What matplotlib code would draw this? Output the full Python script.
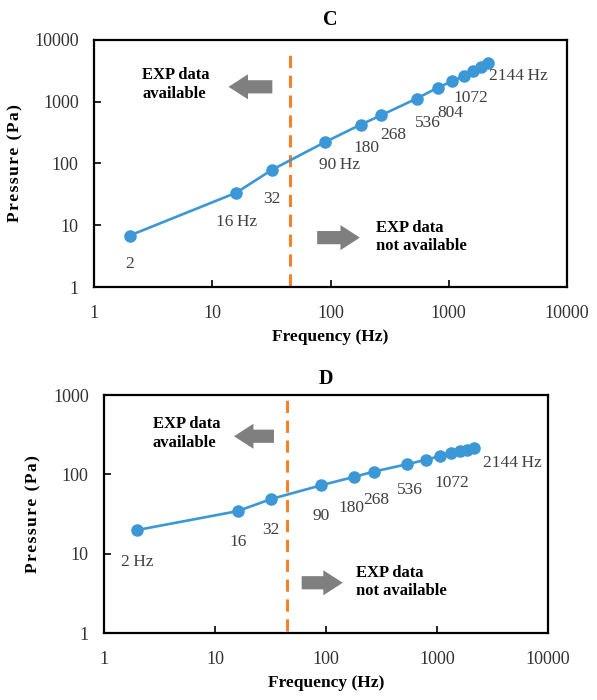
import numpy as np
from matplotlib import pyplot as plt

plt.rcParams['font.family'] = ['Liberation Serif', 'DejaVu Serif']

# frequencies shared by both panels (Hz)
freq = [2, 16, 32, 90, 180, 268, 536, 804, 1072, 1340, 1608, 1876, 2144]

# pressure for case C and case D (Pa)
press_c = [6.8, 33.7, 79, 222, 425, 603, 1125, 1680, 2150, 2600, 3130, 3640, 4180]
press_d = [19.9, 34.4, 48.8, 72.7, 93, 108, 134, 153, 171, 184, 197, 205, 213]

# point labels: (text, x, y)
labels_c = [("2", 2, 2.4), ("16\u2009Hz", 16, 11.4), ("32", 32, 27), ("90\u2009Hz", 120, 95),
            ("180", 202, 177), ("268", 340, 292), ("536", 660, 453), ("804", 1030, 658),
            ("1072", 1550, 1150), ("2144\u2009Hz", 3900, 2600)]
labels_d = [("2\u2009Hz", 2, 7.9), ("16", 16, 14), ("32", 32, 20), ("90", 90, 30),
            ("180", 168, 38), ("268", 281, 47), ("536", 571, 63), ("1072", 1360, 77),
            ("2144\u2009Hz", 4800, 140)]

cutoff = 45
line_col = '#3b97d6'
dash_col = '#f5822a'
arrow_col = '#7f7f7f'
label_col = '#404040'
tick_col = '#333333'
arrow_style = 'simple,head_width=1.8,head_length=1.4,tail_width=0.95'

fig = plt.figure(figsize=(5.97, 7), dpi=100)
ax_c = fig.add_axes([0.1575, 0.59, 0.7923, 0.353])
ax_d = fig.add_axes([0.1742, 0.0957, 0.7437, 0.34])


def draw_panel(ax, press, labels, title, ymax, top_txt, top_arrow, bot_txt, bot_arrow, dash_top, tpad):
    ax.plot(freq, press, color=line_col, lw=1.9, marker='o', ms=8, zorder=3)
    ax.plot([cutoff, cutoff], [1.05, dash_top], color=dash_col, lw=2.2, ls=(0, (4, 2.5)), zorder=2)
    ax.set_xscale('log')
    ax.set_yscale('log')
    ax.set_xlim(1, 10000)
    ax.set_ylim(1, ymax)
    ax.set_xticks([1, 10, 100, 1000, 10000])
    ax.set_xticklabels(['1', '10', '100', '1000', '10000'])
    yt = [10 ** k for k in range(int(np.log10(ymax)) + 1)]
    ax.set_yticks(yt)
    ax.set_yticklabels([str(v) for v in yt])
    ax.minorticks_off()
    ax.tick_params(direction='in', length=5, width=1.2, labelsize=13, labelcolor=tick_col)
    ax.tick_params(axis='x', pad=13)
    ax.tick_params(axis='y', pad=11)
    for s in ax.spines.values():
        s.set_linewidth(1.6)
    ax.set_title(title, fontsize=14.5, fontweight='bold', pad=tpad)
    ax.set_xlabel('Frequency (Hz)', fontsize=12.5, fontweight='bold', labelpad=5)
    ax.set_ylabel('\u200a'.join('Pressure (Pa)'), fontsize=12.5, fontweight='bold', labelpad=8)
    for txt, x, y in labels:
        ax.text(x, y, txt, ha='center', va='center', fontsize=12.5, color=label_col)
    # experimental data availability notes
    ax.text(top_txt[0], top_txt[1], 'EXP data\navailable', ha='left', va='center',
            fontsize=12, fontweight='bold', linespacing=1.2)
    ax.annotate('', xy=(top_arrow[1], top_arrow[2]), xytext=(top_arrow[0], top_arrow[2]),
                arrowprops=dict(arrowstyle=arrow_style, color=arrow_col, lw=0))
    ax.text(bot_txt[0], bot_txt[1], 'EXP data\nnot available', ha='left', va='center',
            fontsize=12, fontweight='bold', linespacing=1.2)
    ax.annotate('', xy=(bot_arrow[1], bot_arrow[2]), xytext=(bot_arrow[0], bot_arrow[2]),
                arrowprops=dict(arrowstyle=arrow_style, color=arrow_col, lw=0))


draw_panel(ax_c, press_c, labels_c, 'C', 10000,
           (2.56, 1900), (34, 13, 1740), (243, 6.5), (73, 187, 6.3), 7200, 11)
draw_panel(ax_d, press_d, labels_d, 'D', 1000,
           (2.74, 327), (36, 14, 302), (185, 4.4), (57, 150, 4.3), 950, 8)

fig.savefig('out.png', dpi=100)
